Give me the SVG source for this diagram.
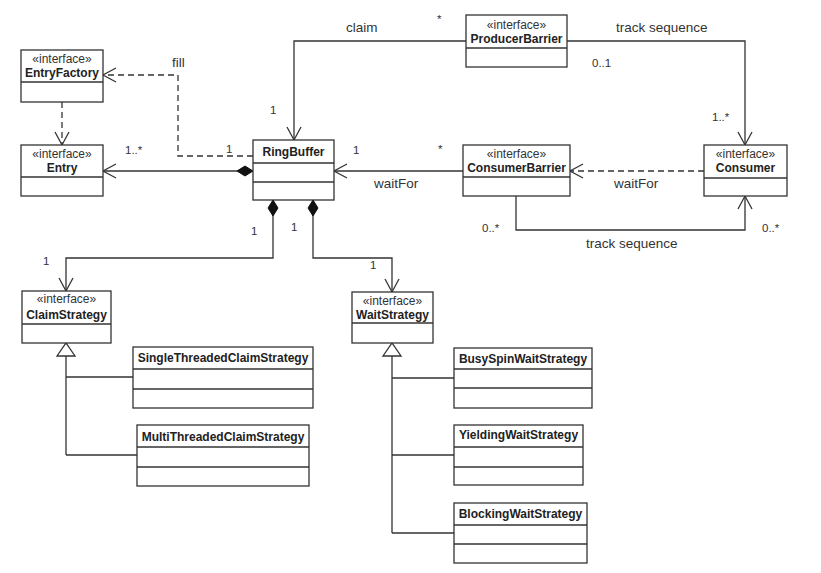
<svg xmlns="http://www.w3.org/2000/svg" width="821" height="573" viewBox="0 0 821 573">
<style>
.box{fill:#fff;stroke:#333;stroke-width:1.3}
.div{stroke:#333;stroke-width:1.3}
.st{font-family:"Liberation Sans",Arial,sans-serif;font-size:12px;fill:#333;text-anchor:middle}
.nm{font-family:"Liberation Sans",Arial,sans-serif;font-size:12px;font-weight:bold;fill:#222;text-anchor:middle}
.lb{font-family:"Liberation Sans",Arial,sans-serif;font-size:13.5px;fill:#333}
.ml{font-family:"Liberation Sans",Arial,sans-serif;font-size:11.5px;fill:#333}
.ln{fill:none;stroke:#333;stroke-width:1.3}
.dash{stroke-dasharray:6,4}
</style>
<defs>
<marker id="open" markerUnits="userSpaceOnUse" markerWidth="16" markerHeight="16" refX="13" refY="7" orient="auto" overflow="visible">
<path d="M0,0 L13,7 L0,14" fill="none" stroke="#333" stroke-width="1.3"/>
</marker>
<marker id="diamond" markerUnits="userSpaceOnUse" markerWidth="18" markerHeight="12" refX="0" refY="5" orient="auto" overflow="visible">
<path d="M0,5 L8,0 L16,5 L8,10 Z" fill="#111" stroke="#111" stroke-width="1"/>
</marker>
<marker id="tri" markerUnits="userSpaceOnUse" markerWidth="16" markerHeight="20" refX="13" refY="9" orient="auto" overflow="visible">
<path d="M0,0 L13,9 L0,18 Z" fill="#fff" stroke="#333" stroke-width="1.3"/>
</marker>
</defs>
<rect width="821" height="573" fill="#fff"/>

<g id="connectors">
<path class="ln dash" d="M62,102 L62,145" marker-end="url(#open)"/>
<path class="ln dash" d="M253,156 L178,156 L178,75 L103,75" marker-end="url(#open)"/>
<path class="ln" d="M253,171 L103,171" marker-start="url(#diamond)" marker-end="url(#open)"/>
<path class="ln" d="M466,41 L294,41 L294,140" marker-end="url(#open)"/>
<path class="ln" d="M567,41 L745,41 L745,145" marker-end="url(#open)"/>
<path class="ln" d="M463,171 L334,171" marker-end="url(#open)"/>
<path class="ln dash" d="M704,171 L570,171" marker-end="url(#open)"/>
<path class="ln" d="M516,196 L516,230 L745,230 L745,196" marker-end="url(#open)"/>
<path class="ln" d="M273,200 L273,258 L66,258 L66,291" marker-start="url(#diamond)" marker-end="url(#open)"/>
<path class="ln" d="M313,200 L313,258 L392,258 L392,292" marker-start="url(#diamond)" marker-end="url(#open)"/>
<path class="ln" d="M66,455 L66,343" marker-end="url(#tri)"/>
<path class="ln" d="M66,377 L133,377 M66,455 L137,455"/>
<path class="ln" d="M392,533 L392,343" marker-end="url(#tri)"/>
<path class="ln" d="M392,378 L454,378 M392,455 L454,455 M392,533 L454,533"/>
<text class="lb" x="172" y="67">fill</text>
<text class="ml" x="125" y="154">1..*</text>
<text class="ml" x="226" y="153">1</text>
<text class="lb" x="346" y="32">claim</text>
<text class="ml" x="437" y="23">*</text>
<text class="ml" x="270" y="114">1</text>
<text class="ml" x="353" y="154">1</text>
<text class="ml" x="438" y="153">*</text>
<text class="lb" x="374" y="188">waitFor</text>
<text class="lb" x="616" y="32">track sequence</text>
<text class="ml" x="592" y="67">0..1</text>
<text class="ml" x="712" y="121">1..*</text>
<text class="lb" x="614" y="188">waitFor</text>
<text class="ml" x="482" y="232">0..*</text>
<text class="ml" x="762" y="232">0..*</text>
<text class="lb" x="586" y="248">track sequence</text>
<text class="ml" x="251" y="235">1</text>
<text class="ml" x="291" y="231">1</text>
<text class="ml" x="43" y="265">1</text>
<text class="ml" x="370" y="269">1</text>
</g>

<g id="EntryFactory">
<rect class="box" x="21" y="50" width="82" height="52"/>
<line class="div" x1="21" y1="82" x2="103" y2="82"/>
<text class="st" x="62" y="63">«interface»</text>
<text class="nm" x="62" y="77">EntryFactory</text>
</g>
<g id="Entry">
<rect class="box" x="21" y="145" width="82" height="51"/>
<line class="div" x1="21" y1="177" x2="103" y2="177"/>
<text class="st" x="62" y="158">«interface»</text>
<text class="nm" x="62" y="172">Entry</text>
</g>
<g id="RingBuffer">
<rect class="box" x="253" y="140" width="81" height="60"/>
<line class="div" x1="253" y1="163" x2="334" y2="163"/>
<line class="div" x1="253" y1="182" x2="334" y2="182"/>
<text class="nm" x="293.5" y="156">RingBuffer</text>
</g>
<g id="ProducerBarrier">
<rect class="box" x="466" y="15" width="101" height="52"/>
<line class="div" x1="466" y1="48" x2="567" y2="48"/>
<text class="st" x="516.5" y="29">«interface»</text>
<text class="nm" x="516.5" y="43">ProducerBarrier</text>
</g>
<g id="ConsumerBarrier">
<rect class="box" x="463" y="145" width="107" height="51"/>
<line class="div" x1="463" y1="177" x2="570" y2="177"/>
<text class="st" x="516.5" y="158">«interface»</text>
<text class="nm" x="516.5" y="172">ConsumerBarrier</text>
</g>
<g id="Consumer">
<rect class="box" x="704" y="145" width="83" height="51"/>
<line class="div" x1="704" y1="178" x2="787" y2="178"/>
<text class="st" x="745.5" y="158">«interface»</text>
<text class="nm" x="745.5" y="172">Consumer</text>
</g>
<g id="ClaimStrategy">
<rect class="box" x="22" y="291" width="89" height="52"/>
<line class="div" x1="22" y1="324" x2="111" y2="324"/>
<text class="st" x="66.5" y="303">«interface»</text>
<text class="nm" x="66.5" y="319">ClaimStrategy</text>
</g>
<g id="WaitStrategy">
<rect class="box" x="352" y="292" width="81" height="51"/>
<line class="div" x1="352" y1="323" x2="433" y2="323"/>
<text class="st" x="392.5" y="305">«interface»</text>
<text class="nm" x="392.5" y="319">WaitStrategy</text>
</g>
<g id="SingleThreadedClaimStrategy">
<rect class="box" x="133" y="347" width="180" height="61"/>
<line class="div" x1="133" y1="369" x2="313" y2="369"/>
<line class="div" x1="133" y1="389" x2="313" y2="389"/>
<text class="nm" x="223" y="362">SingleThreadedClaimStrategy</text>
</g>
<g id="MultiThreadedClaimStrategy">
<rect class="box" x="137" y="425" width="172" height="61"/>
<line class="div" x1="137" y1="447" x2="309" y2="447"/>
<line class="div" x1="137" y1="467" x2="309" y2="467"/>
<text class="nm" x="223" y="441">MultiThreadedClaimStrategy</text>
</g>
<g id="BusySpinWaitStrategy">
<rect class="box" x="454" y="348" width="138" height="60"/>
<line class="div" x1="454" y1="369" x2="592" y2="369"/>
<line class="div" x1="454" y1="388" x2="592" y2="388"/>
<text class="nm" x="523" y="363">BusySpinWaitStrategy</text>
</g>
<g id="YieldingWaitStrategy">
<rect class="box" x="454" y="425" width="129" height="60"/>
<line class="div" x1="454" y1="447" x2="583" y2="447"/>
<line class="div" x1="454" y1="467" x2="583" y2="467"/>
<text class="nm" x="518.5" y="439">YieldingWaitStrategy</text>
</g>
<g id="BlockingWaitStrategy">
<rect class="box" x="454" y="503" width="133" height="60"/>
<line class="div" x1="454" y1="525" x2="587" y2="525"/>
<line class="div" x1="454" y1="544" x2="587" y2="544"/>
<text class="nm" x="520.5" y="518">BlockingWaitStrategy</text>
</g>
</svg>
